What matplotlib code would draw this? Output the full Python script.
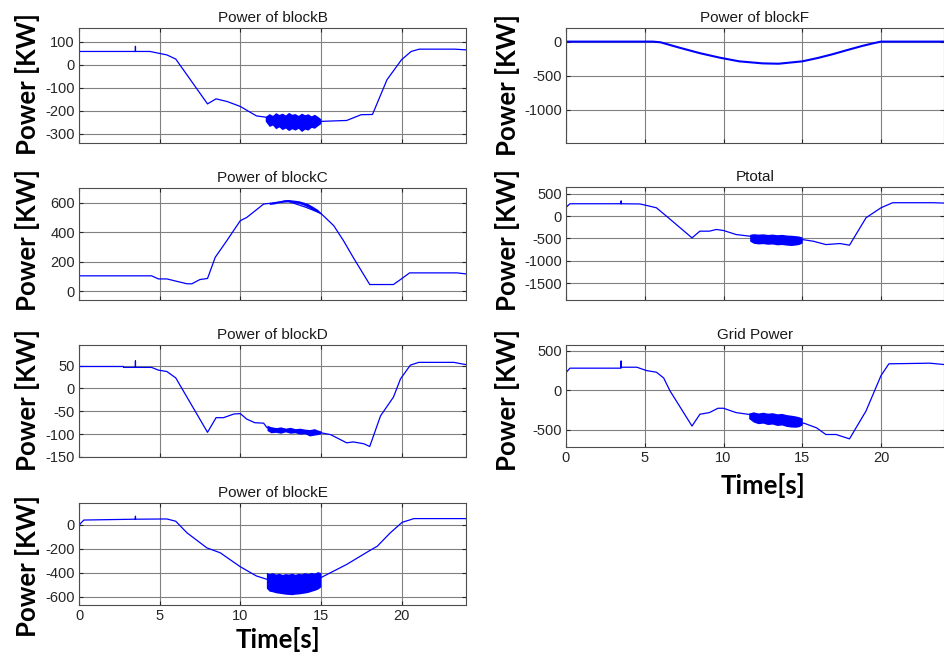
import matplotlib.pyplot as plt

# time [s] / power [kW] breakpoints
t_b = [0, 0.02, 3.5, 3.5, 3.5, 4.4, 5.45, 6.0, 7.97, 8.5, 9.2, 10.0, 11.0, 11.6, 15.0, 16.6, 17.5, 18.2, 19.1, 20.0, 20.6, 21.1, 23.3, 24]
p_b = [75, 58, 58, 80, 58, 58, 43, 25, -170, -148, -160, -181, -222, -228, -246, -242, -217, -216, -65, 22, 58, 68, 68, 65]
nt_b = [11.55, 11.8, 12.0, 12.2, 12.4, 12.6, 12.8, 13.0, 13.2, 13.4, 13.6, 13.8, 14.0, 14.2, 14.4, 14.6, 14.8, 15.0]
hi_b = [-225, -212, -220, -208, -216, -210, -218, -207, -215, -212, -220, -210, -217, -213, -222, -215, -224, -235]
lo_b = [-245, -268, -262, -278, -270, -282, -275, -286, -278, -284, -276, -290, -280, -284, -272, -276, -265, -255]

t_c = [0, 0.02, 4.5, 4.93, 5.45, 6.7, 7.0, 7.5, 7.97, 8.45, 9.17, 10.0, 10.4, 11.45, 11.76, 12.9, 14.1, 15.0, 15.8, 16.4, 17.0, 18.03, 19.5, 19.94, 20.5, 23.45, 24]
p_c = [200, 104, 104, 83, 83, 50, 50, 79, 86, 230, 343, 478, 500, 591, 595, 612, 568, 528, 444, 343, 230, 45, 45, 79, 124, 124, 117]
nt_c = [11.8, 12.1, 12.4, 12.7, 13.0, 13.3, 13.6, 13.9, 14.2, 14.5, 14.8, 15.0]
hi_c = [598, 606, 612, 620, 622, 618, 614, 605, 594, 575, 555, 532]
lo_c = [588, 592, 600, 604, 606, 602, 596, 585, 570, 552, 535, 522]

t_d = [0, 0.02, 2.75, 2.76, 3.5, 3.5, 3.5, 4.5, 4.93, 5.45, 6.0, 7.97, 8.5, 8.96, 9.6, 10.0, 10.4, 10.9, 11.45, 11.66, 15.0, 15.6, 16.1, 16.6, 17.0, 17.66, 18.03, 18.7, 19.5, 19.94, 20.55, 21.07, 23.25, 24]
p_d = [75, 48, 48, 46, 46, 60, 46, 46, 40, 37, 23, -96, -64, -64, -56, -55, -67, -75, -76, -86, -97, -101, -110, -119, -117, -121, -127, -60, -19, 21, 51, 57, 57, 52]
nt_d = [11.66, 11.9, 12.2, 12.5, 12.8, 13.1, 13.4, 13.7, 14.0, 14.3, 14.6, 14.8, 15.0]
hi_d = [-80, -84, -86, -84, -87, -85, -88, -87, -89, -90, -88, -91, -93]
lo_d = [-92, -97, -96, -98, -95, -98, -97, -100, -99, -104, -102, -101, -99]

t_e = [0, 0, 0.02, 0.1, 0.3, 3.5, 3.5, 3.5, 5.45, 6.0, 6.7, 7.93, 8.76, 10.0, 11.0, 11.66, 15.0, 16.6, 18.07, 18.5, 19.3, 20.04, 20.77, 24]
p_e = [-400, 90, -5, 10, 38, 45, 69, 45, 47, 28, -69, -194, -235, -351, -428, -456, -442, -332, -213, -180, -69, 19, 50, 50]
nt_e = [11.62, 11.8, 12.0, 12.2, 12.4, 12.6, 12.8, 13.0, 13.2, 13.4, 13.6, 13.8, 14.0, 14.2, 14.4, 14.6, 14.8, 15.0]
hi_e = [-398, -408, -400, -412, -405, -415, -408, -412, -404, -414, -406, -410, -400, -408, -398, -404, -392, -400]
lo_e = [-530, -555, -560, -568, -572, -576, -580, -582, -584, -580, -578, -574, -570, -565, -556, -548, -538, -518]

t_f = [0, 0, 0.02, 5.5, 6.0, 7.2, 8.5, 9.76, 11.0, 12.5, 13.5, 15.0, 16.0, 16.9, 18.0, 18.8, 19.5, 20.0, 24]
p_f = [-1320, 0, 0, 0, -10, -89, -170, -236, -290, -320, -325, -290, -240, -187, -115, -64, -25, 0, 0]

t_pt = [0, 0, 0.02, 0.25, 3.5, 3.5, 3.5, 4.7, 5.1, 5.74, 6.5, 8.0, 8.5, 9.1, 9.55, 10.0, 10.8, 11.66, 15.0, 15.7, 16.5, 17.4, 18.0, 19.05, 20.0, 20.74, 23.3, 24]
p_pt = [-1620, 200, 200, 275, 275, 335, 275, 270, 238, 185, -39, -489, -339, -339, -301, -324, -414, -451, -526, -564, -639, -616, -653, -39, 185, 298, 298, 290]
nt_pt = [11.66, 11.9, 12.2, 12.5, 12.8, 13.1, 13.4, 13.7, 14.0, 14.3, 14.6, 14.8, 15.0]
hi_pt = [-410, -395, -405, -398, -412, -404, -418, -410, -425, -430, -440, -450, -470]
lo_pt = [-560, -610, -625, -618, -632, -626, -645, -638, -652, -660, -648, -635, -600]

t_g = [0, 0, 0.02, 0.25, 3.5, 3.5, 3.5, 4.5, 5.1, 5.74, 6.2, 6.6, 8.0, 8.5, 9.1, 9.65, 10.0, 10.8, 11.55, 15.14, 15.9, 16.5, 17.15, 18.0, 19.05, 20.0, 20.5, 23.1, 24]
p_g = [-136, 417, 225, 277, 277, 366, 289, 289, 247, 226, 153, -9, -455, -306, -285, -230, -230, -285, -306, -421, -477, -562, -562, -617, -264, 183, 332, 340, 323]
nt_g = [11.6, 11.9, 12.2, 12.5, 12.8, 13.1, 13.4, 13.7, 14.0, 14.3, 14.6, 14.8, 15.0]
hi_g = [-290, -275, -290, -280, -292, -286, -300, -295, -310, -318, -328, -338, -355]
lo_g = [-360, -405, -425, -418, -436, -430, -448, -442, -460, -468, -470, -462, -440]

plt.rcParams['font.family'] = ['Liberation Sans', 'DejaVu Sans']
plt.rcParams['axes.unicode_minus'] = False

fig = plt.figure(figsize=(9.44, 6.54), dpi=100)
W, H = 944, 654

def make_ax(x0, x1, y0, y1):
    return fig.add_axes([x0 / W, 1 - y1 / H, (x1 - x0) / W, (y1 - y0) / H])

# (title, t, p, noise, ylim, yticks, pixel box, label y-center, bottom row)
panels = [
    ('Power of blockB', t_b, p_b, (nt_b, hi_b, lo_b), (-340, 160), [-300, -200, -100, 0, 100], (79, 466, 28, 143), 84, False),
    ('Power of blockC', t_c, p_c, (nt_c, hi_c, lo_c), (-60, 700), [0, 200, 400, 600], (79, 466, 188, 300), 240, False),
    ('Power of blockD', t_d, p_d, (nt_d, hi_d, lo_d), (-150, 95), [-150, -100, -50, 0, 50], (79, 466, 345, 457), 400, False),
    ('Power of blockE', t_e, p_e, (nt_e, hi_e, lo_e), (-670, 180), [-600, -400, -200, 0], (79, 466, 503, 605), 566, True),
    ('Power of blockF', t_f, p_f, None, (-1490, 200), [-1000, -500, 0], (566, 944, 28, 143), 85, False),
    ('Ptotal', t_pt, p_pt, (nt_pt, hi_pt, lo_pt), (-1880, 650), [-1500, -1000, -500, 0, 500], (566, 944, 187, 300), 240, False),
    ('Grid Power', t_g, p_g, (nt_g, hi_g, lo_g), (-720, 570), [-500, 0, 500], (566, 944, 345, 447), 400, True),
]

for title, t, p, noise, ylim, yt, box, ly, bottom in panels:
    ax = make_ax(*box)
    lw = 1.5 if title == 'Power of blockF' else 0.9
    ax.plot(t, p, color='#0000ff', lw=lw)
    if noise is not None:
        ax.fill_between(noise[0], noise[2], noise[1], color='#0000ff', lw=0)
    ax.set_xlim(0, 24)
    ax.set_ylim(*ylim)
    ax.set_xticks([0, 5, 10, 15, 20])
    ax.set_yticks(yt)
    ax.grid(True, color='0.5', lw=0.8)
    ax.set_axisbelow(True)
    ax.tick_params(direction='in', top=True, right=True, length=3, labelsize=10.5,
                   colors='0.15', pad=3)
    for s in ax.spines.values():
        s.set_color('0.3')
        s.set_linewidth(0.8)
    if not bottom:
        ax.set_xticklabels([])
    ax.set_title(title, fontsize=11, color='0.1', pad=4)
    lx = 27 if box[0] < 300 else 508
    fig.text(lx / W, 1 - ly / H, 'Power [KW]', rotation=90, ha='center', va='center',
             fontsize=18.5, fontweight='bold', family='Lato')
    if bottom:
        cx = 278 if box[0] < 300 else 763
        cy = 640 if box[0] < 300 else 485
        fig.text(cx / W, 1 - cy / H, 'Time[s]', ha='center', va='center',
                 fontsize=18.5, fontweight='bold', family='Lato')

fig.savefig('out.png', dpi=100)
